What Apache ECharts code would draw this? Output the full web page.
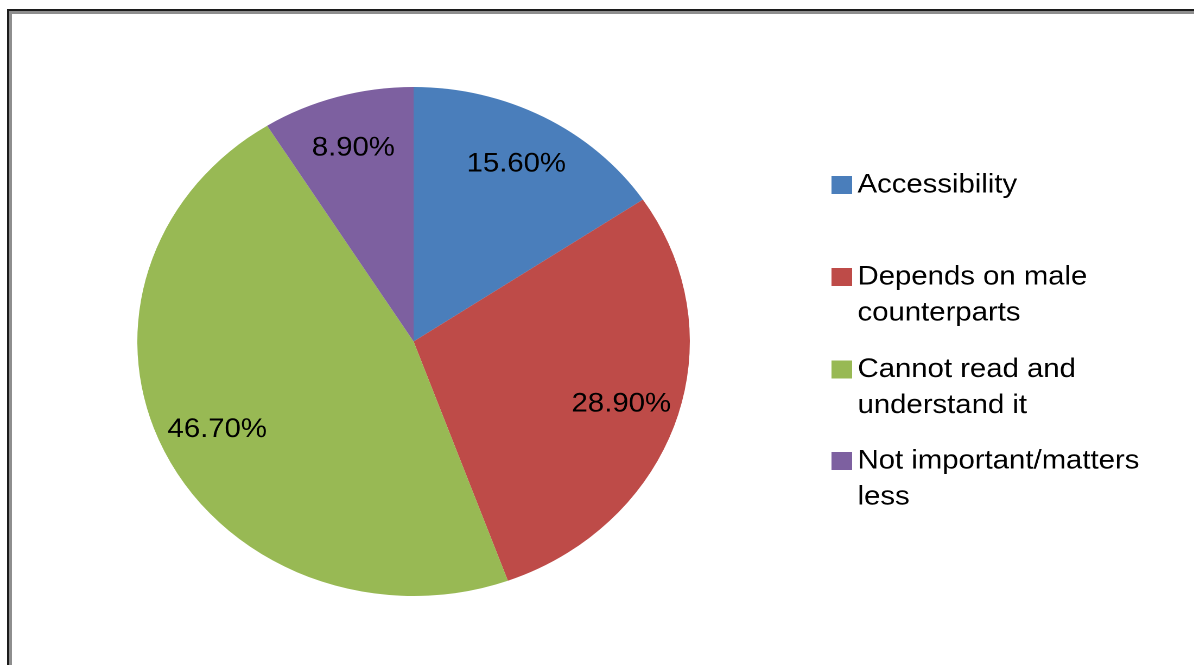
<!DOCTYPE html>
<html>
<head>
<meta charset="utf-8">
<script src="https://cdn.jsdelivr.net/npm/echarts@6/dist/echarts.min.js"></script>
<style>
html,body{margin:0;padding:0;width:1194px;height:665px;overflow:hidden;background:#fff;}
#frame{position:absolute;left:7px;top:9px;width:1300px;height:800px;border-left:2px solid #1c1c1c;border-top:2px solid #1c1c1c;}
#frame2{position:absolute;left:0;top:0;right:0;bottom:0;border-left:3px solid #8e8e8e;border-top:3px solid #8e8e8e;}
#wrap{position:absolute;left:0;top:0;width:1100px;height:665px;transform:scaleX(1.0855);transform-origin:0 0;}
#chart{width:1100px;height:665px;}
</style>
</head>
<body>
<div id="frame"><div id="frame2"></div></div>
<div id="wrap"><div id="chart"></div></div>
<script>
const categories = ['Accessibility', 'Depends on male counterparts', 'Cannot read and understand it', 'Not important/matters less'];
const legendLabels = ['Accessibility', 'Depends on male\ncounterparts', 'Cannot read and\nunderstand it', 'Not important/matters\nless'];
const values = [15.6, 28.9, 46.7, 8.9];
const colors = ['#4A7EBB', '#BE4B48', '#98B954', '#7D60A0'];

const FONT = '"Liberation Sans", Arial, sans-serif';
const center = [381, 341.5];
const R = 254.5;

const legendTops = [167, 223, 315.5, 407];
const legends = categories.map((c, i) => ({
  orient: 'vertical',
  left: 766,
  top: legendTops[i],
  padding: 0,
  itemWidth: 19,
  itemHeight: 18,
  icon: 'rect',
  selectedMode: false,
  data: [c],
  formatter: name => {
    const t = legendLabels[categories.indexOf(name)];
    return t.indexOf('\n') >= 0 ? '\n' + t : t;
  },
  textStyle: {
    fontFamily: FONT,
    fontSize: 27,
    lineHeight: 36,
    color: '#000'
  }
}));

const chart = echarts.init(document.getElementById('chart'), null, {devicePixelRatio: 2});
chart.setOption({
  animation: false,
  legend: legends,
  series: [
    {
      type: 'pie',
      center: center,
      radius: [0, R],
      startAngle: 90,
      clockwise: true,
      data: categories.map((c, i) => ({name: c, value: values[i], itemStyle: {color: colors[i]}})),
      itemStyle: {borderWidth: 0},
      label: {show: false},
      labelLine: {show: false},
      emphasis: {disabled: true}
    },
    {
      type: 'pie',
      center: center,
      radius: [142, R],
      startAngle: 90,
      clockwise: true,
      silent: true,
      legendHoverLink: false,
      data: categories.map((c, i) => ({name: c, value: values[i]})),
      itemStyle: {color: 'rgba(0,0,0,0)', borderWidth: 0},
      label: {
        show: true,
        position: 'inside',
        formatter: p => p.value.toFixed(2) + '%',
        fontFamily: FONT,
        fontSize: 27,
        color: '#000'
      },
      labelLine: {show: false},
      emphasis: {disabled: true}
    }
  ]
});
</script>
</body>
</html>
